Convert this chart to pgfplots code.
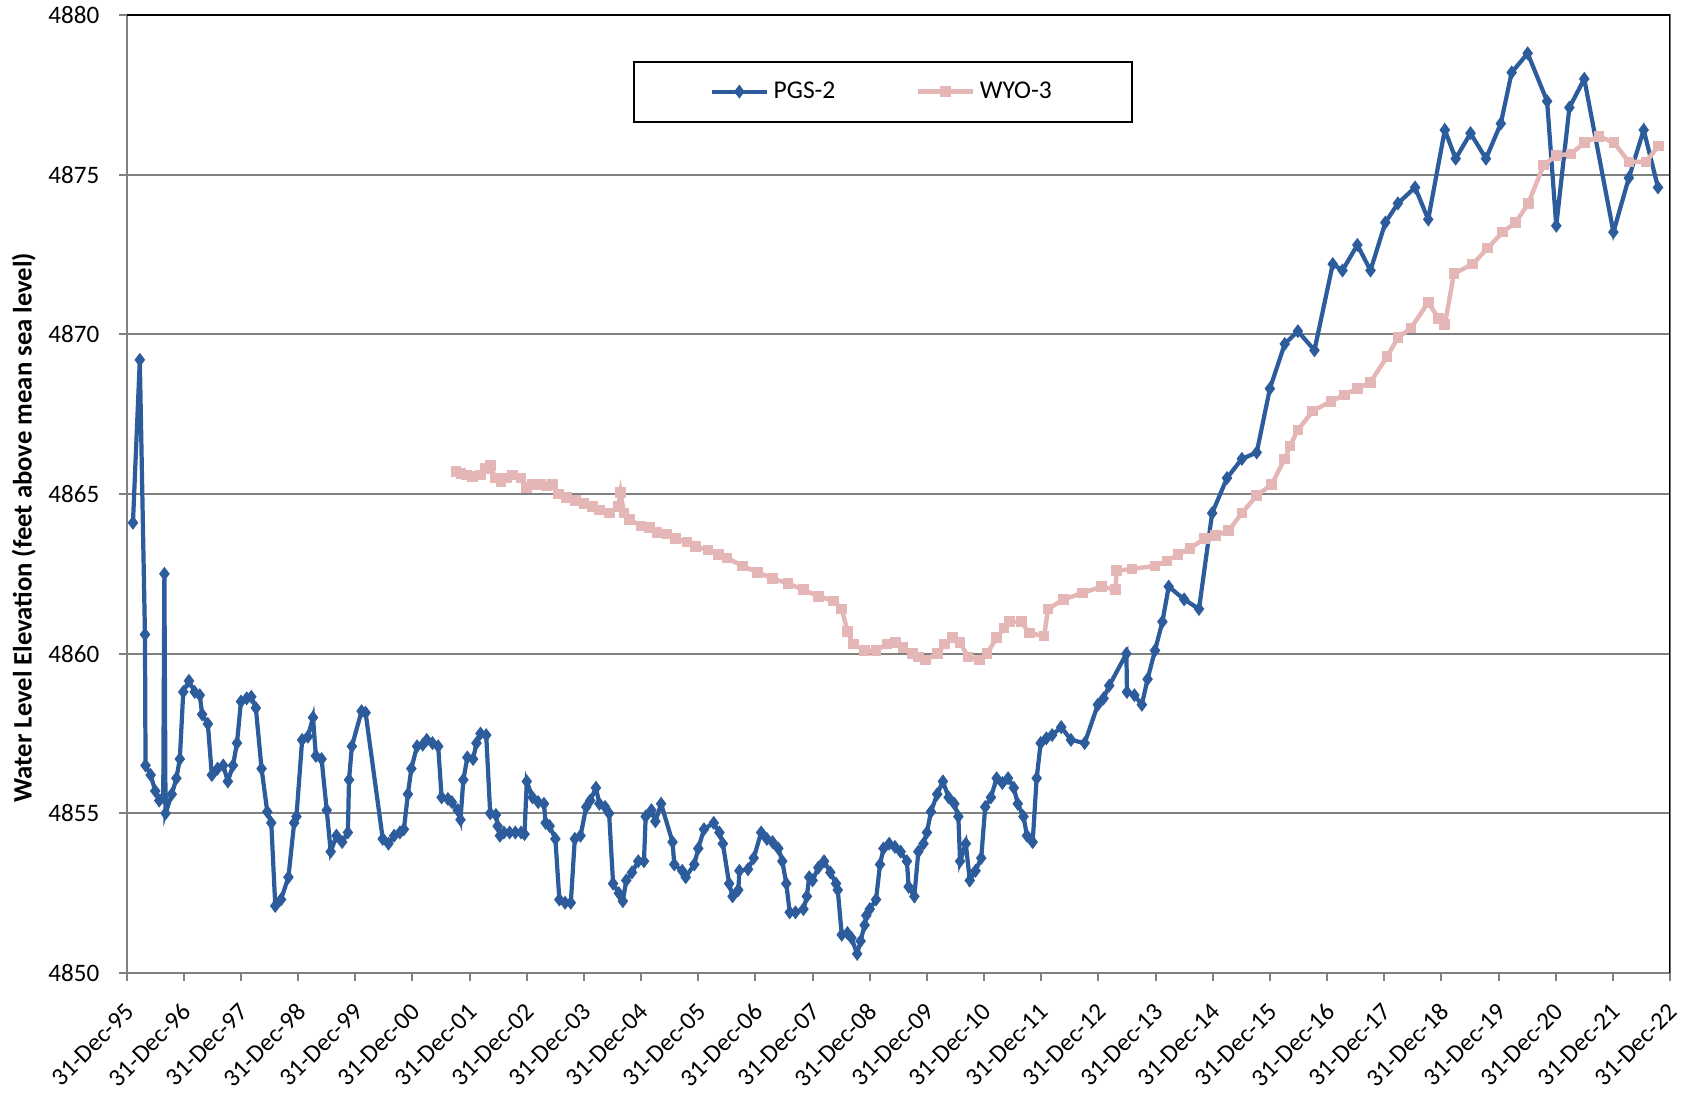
\documentclass[border=0pt]{standalone}
\usepackage{fontspec}
\setmainfont{Carlito}
\usepackage{pgfplots}
\pgfplotsset{compat=1.18}
\definecolor{pgs}{RGB}{44,92,155}
\definecolor{wyo}{RGB}{228,182,182}
\definecolor{gridgray}{RGB}{128,128,128}
\begin{document}
\begin{tikzpicture}
\useasboundingbox (-57pt,-58.05pt) rectangle (700.8pt,437.85pt);
\begin{axis}[
  at={(0,0)}, anchor=south west,
  scale only axis, width=694.5pt, height=431.1pt,
  xmin=0, xmax=27, ymin=4850, ymax=4880,
  xtick={0,...,27},
  xticklabels={31-Dec-95,31-Dec-96,31-Dec-97,31-Dec-98,31-Dec-99,31-Dec-00,31-Dec-01,31-Dec-02,31-Dec-03,31-Dec-04,31-Dec-05,31-Dec-06,31-Dec-07,31-Dec-08,31-Dec-09,31-Dec-10,31-Dec-11,31-Dec-12,31-Dec-13,31-Dec-14,31-Dec-15,31-Dec-16,31-Dec-17,31-Dec-18,31-Dec-19,31-Dec-20,31-Dec-21,31-Dec-22},
  ytick={4850,4855,4860,4865,4870,4875,4880},
  ymajorgrids,
  grid style={gridgray, line width=0.8pt},
  axis line style={gridgray, line width=0.9pt},
  tick style={gridgray, line width=0.9pt},
  tick align=outside, tick pos=left,
  major tick length=3.6pt,
  font=\fontsize{11.3}{13}\selectfont,
  yticklabel style={/pgf/number format/1000 sep={}, /pgf/number format/assume math mode=true, anchor=east, inner sep=0pt, xshift=-8.5pt},
  xticklabel style={xshift=1.5pt, yshift=-12pt, rotate=45, anchor=east, inner sep=0pt},
  ylabel={\fontsize{12}{14}\selectfont\bfseries Water Level Elevation (feet above mean sea level)},
  ylabel style={at={(axis description cs:-0.0667,0.465)}, anchor=center},
  legend columns=2,
  legend cell align=left,
  legend style={at={(0.49,0.92)}, anchor=center, draw=black, line width=0.9pt, inner xsep=34pt, inner ysep=7pt, font=\fontsize{11.5}{13}\selectfont, /tikz/every even column/.append style={column sep=34pt}},
  legend image code/.code={\draw[mark repeat=2,mark phase=2,#1] plot coordinates {(0pt,0pt) (12.5pt,0pt) (25pt,0pt)};},
]
\addplot[color=pgs, line width=1.9pt, mark=diamond*, mark size=1.6pt, mark options={solid}] coordinates {
(0.11,4864.1)(0.23,4869.2)(0.32,4860.6)(0.33,4856.5)(0.42,4856.2)(0.5,4855.7)(0.57,4855.4)(0.64,4855.5)(0.66,4862.5)(0.68,4855.0)
(0.79,4855.6)(0.87,4856.1)(0.93,4856.7)(0.99,4858.8)(1.09,4859.15)(1.19,4858.8)(1.28,4858.7)(1.32,4858.1)(1.42,4857.8)(1.49,4856.2)
(1.59,4856.4)(1.69,4856.5)(1.77,4856.0)(1.86,4856.5)(1.93,4857.2)(2.0,4858.5)(2.1,4858.6)(2.18,4858.65)(2.26,4858.3)(2.36,4856.4)
(2.46,4855.05)(2.53,4854.7)(2.6,4852.1)(2.7,4852.3)(2.83,4853.0)(2.93,4854.7)(2.97,4854.9)(3.07,4857.3)(3.17,4857.4)(3.26,4858.0)
(3.31,4856.8)(3.41,4856.7)(3.5,4855.1)(3.57,4853.8)(3.67,4854.3)(3.77,4854.1)(3.87,4854.4)(3.89,4856.05)(3.94,4857.1)(4.11,4858.2)
(4.18,4858.15)(4.48,4854.2)(4.58,4854.05)(4.68,4854.3)(4.78,4854.4)(4.85,4854.5)(4.92,4855.6)(4.98,4856.4)(5.08,4857.1)(5.18,4857.15)
(5.25,4857.3)(5.35,4857.2)(5.45,4857.1)(5.51,4855.5)(5.62,4855.45)(5.69,4855.35)(5.79,4855.1)(5.84,4854.8)(5.89,4856.05)(5.96,4856.75)
(6.06,4856.7)(6.12,4857.2)(6.19,4857.5)(6.29,4857.45)(6.36,4855.0)(6.46,4854.95)(6.49,4854.6)(6.53,4854.3)(6.6,4854.4)(6.7,4854.4)
(6.8,4854.4)(6.9,4854.4)(6.96,4854.35)(7.0,4856.0)(7.1,4855.5)(7.2,4855.35)(7.3,4855.3)(7.33,4854.7)(7.4,4854.6)(7.5,4854.2)
(7.57,4852.3)(7.67,4852.2)(7.77,4852.2)(7.84,4854.2)(7.94,4854.3)(8.04,4855.2)(8.11,4855.4)(8.21,4855.8)(8.27,4855.3)(8.37,4855.2)
(8.44,4855.0)(8.51,4852.8)(8.61,4852.5)(8.68,4852.25)(8.74,4852.9)(8.84,4853.15)(8.95,4853.5)(9.05,4853.5)(9.08,4854.9)(9.18,4855.1)
(9.25,4854.75)(9.35,4855.3)(9.55,4854.1)(9.58,4853.4)(9.72,4853.2)(9.78,4853.0)(9.93,4853.4)(10.0,4853.9)(10.1,4854.5)(10.27,4854.7)
(10.37,4854.4)(10.43,4854.05)(10.54,4852.8)(10.6,4852.4)(10.7,4852.6)(10.72,4853.2)(10.87,4853.25)(10.97,4853.6)(11.1,4854.4)(11.2,4854.2)
(11.3,4854.1)(11.4,4853.9)(11.47,4853.5)(11.54,4852.8)(11.6,4851.9)(11.7,4851.9)(11.84,4852.0)(11.9,4852.4)(11.94,4853.0)(12.0,4852.9)
(12.1,4853.3)(12.2,4853.5)(12.31,4853.15)(12.41,4852.8)(12.44,4852.6)(12.51,4851.2)(12.61,4851.25)(12.68,4851.1)(12.78,4850.6)(12.84,4851.0)
(12.91,4851.5)(12.94,4851.8)(13.0,4852.0)(13.11,4852.3)(13.18,4853.4)(13.24,4853.9)(13.34,4854.05)(13.44,4853.95)(13.54,4853.8)(13.65,4853.5)
(13.68,4852.7)(13.78,4852.4)(13.85,4853.8)(13.94,4854.05)(14.0,4854.4)(14.07,4855.05)(14.18,4855.6)(14.28,4856.0)(14.38,4855.5)(14.48,4855.3)
(14.55,4854.9)(14.58,4853.5)(14.68,4854.05)(14.75,4852.9)(14.85,4853.2)(14.95,4853.6)(15.02,4855.2)(15.12,4855.5)(15.22,4856.1)(15.32,4855.95)
(15.42,4856.1)(15.52,4855.8)(15.59,4855.3)(15.69,4854.9)(15.75,4854.3)(15.85,4854.1)(15.92,4856.1)(15.99,4857.2)(16.09,4857.35)(16.19,4857.45)
(16.35,4857.7)(16.52,4857.3)(16.76,4857.2)(16.99,4858.4)(17.09,4858.6)(17.19,4859.0)(17.49,4860.0)(17.5,4858.8)(17.63,4858.7)(17.76,4858.4)
(17.86,4859.2)(17.99,4860.1)(18.12,4861.0)(18.23,4862.1)(18.5,4861.7)(18.76,4861.4)(18.99,4864.4)(19.25,4865.5)(19.51,4866.1)(19.77,4866.3)
(20.0,4868.3)(20.26,4869.7)(20.49,4870.1)(20.78,4869.5)(21.1,4872.2)(21.27,4872.0)(21.53,4872.8)(21.76,4872.0)(22.02,4873.5)(22.24,4874.1)
(22.54,4874.6)(22.77,4873.6)(23.06,4876.4)(23.25,4875.5)(23.51,4876.3)(23.78,4875.5)(24.04,4876.6)(24.23,4878.2)(24.51,4878.8)(24.85,4877.3)
(25.01,4873.4)(25.24,4877.1)(25.5,4878.0)(26.01,4873.2)(26.28,4874.9)(26.54,4876.4)(26.79,4874.6)
};
\addlegendentry{PGS-2}
\addplot[color=wyo, line width=2pt, mark=square*, mark size=1.4pt, mark options={solid}] coordinates {
(5.76,4865.7)(5.85,4865.65)(5.95,4865.6)(6.05,4865.55)(6.19,4865.6)(6.28,4865.8)(6.36,4865.9)(6.45,4865.5)(6.55,4865.4)(6.65,4865.5)
(6.75,4865.6)(6.9,4865.5)(7.0,4865.2)(7.1,4865.3)(7.25,4865.3)(7.35,4865.25)(7.45,4865.3)(7.55,4865.0)(7.7,4864.9)(7.85,4864.8)
(8.0,4864.7)(8.15,4864.6)(8.27,4864.5)(8.45,4864.4)(8.6,4864.6)(8.64,4865.05)(8.7,4864.4)(8.8,4864.2)(9.0,4864.0)(9.15,4863.95)
(9.28,4863.8)(9.45,4863.75)(9.6,4863.6)(9.8,4863.5)(9.95,4863.35)(10.17,4863.25)(10.35,4863.1)(10.5,4863.0)(10.77,4862.75)(11.04,4862.55)
(11.3,4862.35)(11.57,4862.2)(11.84,4862.0)(12.1,4861.8)(12.37,4861.65)(12.51,4861.4)(12.61,4860.7)(12.71,4860.3)(12.91,4860.1)(13.11,4860.1)
(13.3,4860.3)(13.45,4860.35)(13.58,4860.2)(13.75,4860.0)(13.85,4859.9)(13.98,4859.8)(14.18,4860.0)(14.31,4860.3)(14.45,4860.5)(14.58,4860.35)
(14.72,4859.9)(14.92,4859.8)(15.05,4860.0)(15.22,4860.5)(15.35,4860.8)(15.45,4861.0)(15.65,4861.0)(15.79,4860.65)(16.05,4860.55)(16.12,4861.4)
(16.39,4861.7)(16.72,4861.9)(17.06,4862.1)(17.3,4862.0)(17.32,4862.6)(17.59,4862.65)(17.99,4862.75)(18.2,4862.9)(18.39,4863.1)(18.6,4863.3)
(18.86,4863.6)(19.05,4863.7)(19.28,4863.85)(19.51,4864.4)(19.77,4864.95)(20.03,4865.3)(20.26,4866.1)(20.35,4866.5)(20.49,4867.0)(20.75,4867.6)
(21.07,4867.9)(21.3,4868.1)(21.53,4868.3)(21.76,4868.5)(22.05,4869.3)(22.24,4869.9)(22.47,4870.2)(22.77,4871.0)(22.95,4870.5)(23.06,4870.3)
(23.22,4871.9)(23.55,4872.2)(23.81,4872.7)(24.07,4873.2)(24.3,4873.5)(24.52,4874.1)(24.79,4875.3)(25.01,4875.6)(25.27,4875.65)(25.5,4876.0)
(25.76,4876.2)(26.02,4876.0)(26.28,4875.4)(26.58,4875.4)(26.8,4875.9)
};
\addlegendentry{WYO-3}
\draw[black, line width=0.9pt] (rel axis cs:0,1) -- (rel axis cs:1,1) -- (rel axis cs:1,0);
\end{axis}
\end{tikzpicture}
\end{document}
